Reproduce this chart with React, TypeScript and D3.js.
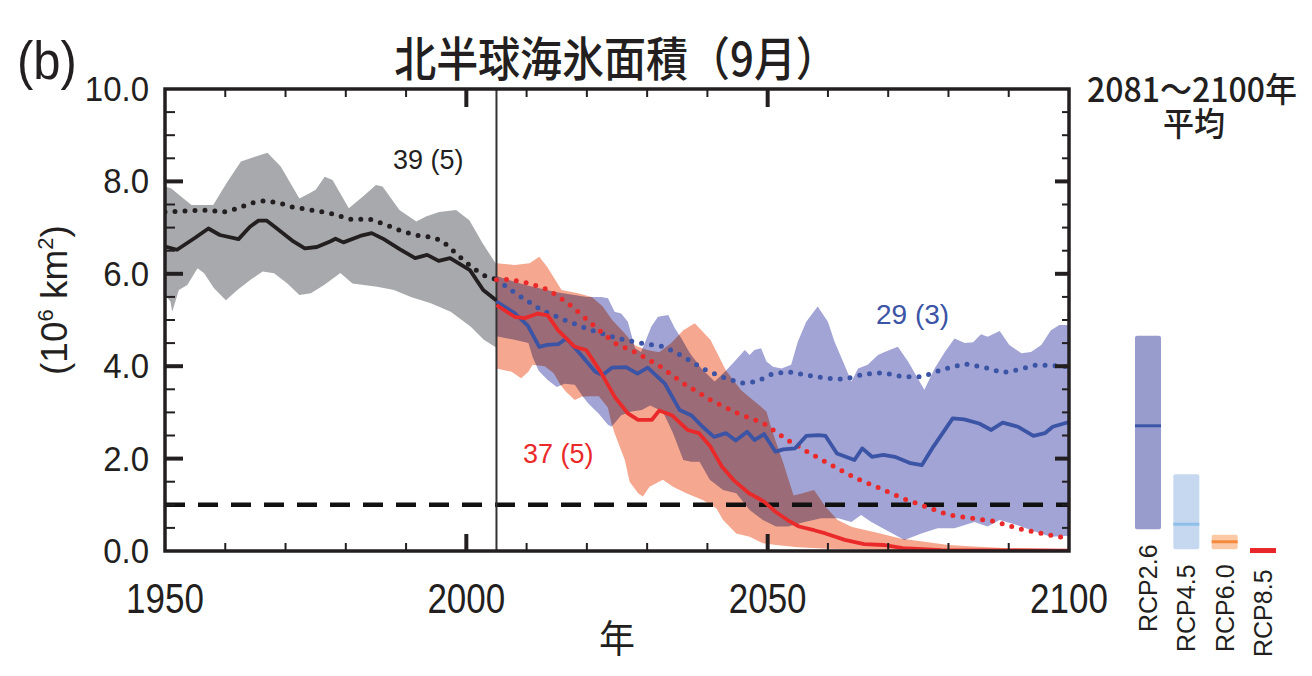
import * as d3 from 'd3';

type Pt = [number, number];

// 1950-2005 historical ensemble (million km2)
const histMean: Pt[] = [[1950,6.59],[1952,6.52],[1955,6.78],[1957.2,6.98],[1959.1,6.84],[1962.2,6.75],[1964.1,7.02],[1965.5,7.15],[1966.9,7.15],[1968.2,7.02],[1971.3,6.70],[1973.2,6.55],[1975.2,6.58],[1977.4,6.70],[1978.3,6.76],[1979.6,6.68],[1982.4,6.82],[1984.3,6.88],[1986.3,6.75],[1989,6.53],[1991.5,6.34],[1993.5,6.41],[1995.4,6.28],[1997.3,6.34],[2000.6,6.08],[2002.8,5.65],[2005,5.42]];
const histAll: Pt[] = [[1950,7.34],[1953.4,7.36],[1957.2,7.38],[1959.6,7.33],[1962.2,7.42],[1964.1,7.53],[1966.6,7.58],[1968.8,7.54],[1971,7.45],[1974.3,7.38],[1977.4,7.31],[1980.7,7.18],[1984,7.18],[1986.3,7.08],[1989.5,6.91],[1992.3,6.82],[1994.5,6.79],[1996.1,6.70],[1998.9,6.37],[2001.1,6.12],[2003.3,5.94],[2005,5.88]];
const histUpper: Pt[] = [[1950,7.89],[1951,7.85],[1952.7,7.67],[1954.4,7.49],[1958,7.49],[1960.2,7.96],[1962.6,8.43],[1964.8,8.53],[1967,8.62],[1969.2,8.32],[1972.3,7.63],[1973.9,7.74],[1975,7.82],[1976.5,8.10],[1977.8,8.03],[1980.5,7.42],[1982.8,7.67],[1985,7.92],[1986.1,7.89],[1988.9,7.38],[1991.7,7.13],[1993.3,7.24],[1995.5,7.34],[1998.3,7.38],[2000.5,7.16],[2002.7,6.66],[2005,6.2]];
const histLower: Pt[] = [[1950,5.54],[1950.9,5.40],[1951.2,5.18],[1952.3,5.65],[1953.7,5.76],[1955.4,6.12],[1956.5,6.01],[1958.1,5.69],[1960.1,5.43],[1962,5.65],[1964.2,5.87],[1966.2,6.05],[1968.1,6.01],[1970.3,5.79],[1972.3,5.54],[1974.2,5.58],[1976.4,5.76],[1979.1,6.02],[1981.1,5.79],[1983,5.76],[1985.2,5.72],[1988,5.65],[1990.8,5.50],[1994.1,5.36],[1997.4,5.18],[2000.7,4.86],[2002.9,4.57],[2005,4.40]];

// RCP2.6
const rcp26Mean: Pt[] = [[2005,5.40],[2008,5.15],[2010.2,4.88],[2012.1,4.42],[2013.4,4.46],[2015.3,4.48],[2016.6,4.60],[2018.8,4.28],[2021.4,3.88],[2022.6,3.81],[2024.2,3.97],[2026.5,3.98],[2028.4,3.84],[2030.1,3.97],[2032.9,3.63],[2035.4,3.05],[2037.3,2.94],[2039.2,2.69],[2041.1,2.47],[2043.1,2.55],[2044.7,2.39],[2046.6,2.58],[2047.8,2.40],[2049.4,2.53],[2051.3,2.15],[2052.6,2.2],[2054.5,2.22],[2056.4,2.49],[2058.4,2.51],[2059.6,2.49],[2061.5,2.11],[2064.4,1.97],[2065.7,2.22],[2067.3,2.04],[2069.2,2.08],[2071.1,2.04],[2073.7,1.90],[2075.6,1.86],[2077.5,2.26],[2080.7,2.87],[2082.6,2.85],[2085.1,2.76],[2087.1,2.62],[2089,2.78],[2091.5,2.69],[2094.1,2.49],[2096,2.55],[2097.3,2.69],[2100,2.79]];
const rcp26All: Pt[] = [[2005,5.87],[2008.6,5.54],[2012.4,5.22],[2016.3,5.0],[2020.7,4.78],[2025.2,4.60],[2029,4.50],[2032.9,4.42],[2036,4.21],[2039.2,3.95],[2042.4,3.77],[2045.6,3.63],[2048.2,3.67],[2050.7,3.83],[2053.3,3.88],[2056.4,3.81],[2059.6,3.74],[2062.8,3.72],[2066,3.83],[2069.2,3.86],[2072.4,3.77],[2075.6,3.77],[2078.8,3.92],[2082.6,4.05],[2085.8,3.98],[2089,3.86],[2091.5,3.92],[2094.7,4.03],[2100,3.99]];
const rcp26Upper: Pt[] = [[2005,5.95],[2010,5.75],[2015,5.6],[2020,5.5],[2022.4,5.5],[2023.5,5.47],[2024.6,5.18],[2025.7,5.14],[2026.8,4.96],[2028,4.39],[2029,4.31],[2030.7,4.86],[2031.8,5.07],[2033.5,5.11],[2034.6,4.82],[2035.7,4.60],[2037,4.3],[2039,3.95],[2041.2,3.67],[2042.9,3.88],[2044.5,4.10],[2046.2,4.35],[2047,4.24],[2047.8,4.35],[2048.9,4.39],[2049.8,4.10],[2050.9,3.99],[2052.3,3.95],[2053.9,4.03],[2055,4.53],[2056.4,4.96],[2058.3,5.29],[2060,4.96],[2061.1,4.53],[2062.5,4.10],[2063.9,3.67],[2065,3.95],[2066.6,4.03],[2068.3,4.24],[2069.4,4.31],[2071.6,4.42],[2073.3,4.10],[2074.9,3.74],[2076,3.49],[2077.7,3.95],[2079.4,4.31],[2081,4.60],[2082.7,4.50],[2084.1,4.52],[2085.4,4.69],[2086.5,4.64],[2088.5,4.76],[2090.1,4.46],[2092.1,4.28],[2093.7,4.31],[2095.4,4.46],[2097,4.78],[2098.4,4.89],[2100,4.89]];
const rcp26Lower: Pt[] = [[2005,4.65],[2008,4.57],[2010.3,4.5],[2011,4.2],[2012,3.9],[2013.5,3.7],[2015,3.55],[2016.3,3.62],[2018,3.6],[2019.3,3.35],[2020.2,3.2],[2021.9,2.98],[2023.5,2.73],[2024.1,2.69],[2025.7,2.94],[2027.4,3.02],[2029.1,3.05],[2030.5,3.15],[2032.6,3.02],[2034.3,2.55],[2036,1.97],[2037.3,1.93],[2038.7,1.93],[2040.4,1.54],[2042.6,1.32],[2044.8,1.25],[2047,0.89],[2049.2,0.67],[2051.4,0.53],[2053.4,0.53],[2056.1,0.63],[2058.9,0.71],[2061.7,0.71],[2063.9,0.63],[2065.5,0.78],[2067.2,0.63],[2069.4,0.47],[2072.7,0.24],[2075.5,0.38],[2078.2,0.49],[2081,0.49],[2084.3,0.63],[2086.5,0.53],[2088.5,0.67],[2091.5,0.56],[2094.3,0.42],[2097,0.31],[2100,0.33]];

// RCP8.5
const rcp85Mean: Pt[] = [[2005,5.32],[2008,5.07],[2009.7,5.04],[2011.9,5.14],[2013.5,5.10],[2015.2,4.78],[2018,4.42],[2019.9,4.35],[2022.4,3.85],[2024.6,3.34],[2026.8,2.98],[2028.5,2.84],[2030.8,2.84],[2032,3.04],[2034.1,2.94],[2036.7,2.62],[2038.6,2.55],[2040.5,2.26],[2042.4,1.83],[2044.3,1.54],[2046.9,1.25],[2049.4,1.07],[2051.3,0.85],[2053.3,0.67],[2055.2,0.53],[2057.7,0.45],[2059.6,0.38],[2062.8,0.24],[2066,0.15],[2069.2,0.13],[2072.4,0.06],[2078.8,0.02],[2100,0.01]];
const rcp85All: Pt[] = [[2005,5.87],[2007.3,5.88],[2010.5,5.79],[2013.7,5.65],[2016.9,5.36],[2020.7,4.93],[2024.6,4.50],[2028.4,4.28],[2032.2,3.99],[2036,3.63],[2040.5,3.27],[2045,2.98],[2049.4,2.76],[2053.3,2.40],[2057.1,2.11],[2061,1.83],[2064.7,1.57],[2068.6,1.36],[2072.4,1.14],[2076.2,0.96],[2080.1,0.78],[2083.9,0.71],[2087.7,0.64],[2091.5,0.49],[2095.4,0.38],[2100,0.27]];
const rcp85Upper: Pt[] = [[2005,6.23],[2008,6.19],[2010.5,6.23],[2012.1,6.37],[2013.4,6.15],[2015.8,5.65],[2018.5,5.58],[2020.8,5.5],[2022.6,5.3],[2024.2,5.0],[2026,4.75],[2028,4.45],[2030,4.35],[2032,4.3],[2034,4.5],[2036,4.78],[2037.9,4.93],[2040.5,4.57],[2043.1,3.9],[2045.6,3.48],[2048.2,3.2],[2049.8,3.02],[2050.7,2.62],[2052.6,1.9],[2054.3,1.2],[2055.8,1.25],[2057.7,1.32],[2059.6,0.96],[2061.6,0.67],[2064,0.52],[2068,0.4],[2072,0.27],[2076,0.2],[2080,0.13],[2085,0.09],[2090,0.06],[2100,0.04]];
const rcp85Lower: Pt[] = [[2005,3.95],[2007.5,3.88],[2009.1,3.74],[2010.3,3.88],[2011,4.03],[2013,4.0],[2014.5,3.85],[2015.6,3.6],[2016.5,3.45],[2018,3.27],[2019.1,3.34],[2020.5,3.35],[2022,3.35],[2023.5,3.1],[2024.1,2.76],[2024.6,2.55],[2026.3,1.97],[2027.1,1.5],[2028.5,1.25],[2029.3,1.18],[2030.4,1.39],[2032.6,1.54],[2034.3,1.39],[2036.5,1.25],[2039.3,1.10],[2041.5,0.92],[2042.6,0.67],[2044.8,0.38],[2047,0.31],[2049.2,0.17],[2051.4,0.13],[2055,0.08],[2060,0.05],[2070,0.02],[2080,0.01],[2100,0]];

// 2081-2100 mean bars
const legendLabels = ['RCP2.6', 'RCP4.5', 'RCP6.0', 'RCP8.5'];
const legendLow = [0.47, 0.04, 0.04, 0.0];
const legendHigh = [4.66, 1.66, 0.35, 0.03];
const legendMean = [2.71, 0.58, 0.2, 0.01];
const legendFill = ['#989ccc', '#c6d8f0', '#fbc9a6', '#ef3b36'];
const legendLine = ['#3d55a6', '#8dbfe8', '#f58a3c', '#e8262a'];
const legendTextStart = [632, 652, 652, 657];

const yTickValues = [0, 2, 4, 6, 8, 10];
const xTickValues = [1950, 2000, 2050, 2100];

const SANS = "'Liberation Sans', Arial, Helvetica, sans-serif";
const CJK = "'Noto Sans CJK JP', 'Noto Sans CJK SC', sans-serif";

const BLACK = '#231f20';
const BLUE = '#3b54a5';
const RED = '#ea2a2a';

export default function App() {
  const x = d3.scaleLinear().domain([1950, 2100]).range([165, 1069]);
  const y = d3.scaleLinear().domain([0, 10]).range([551, 89]);
  const line = d3.line<Pt>().x(d => x(d[0])).y(d => y(d[1]));
  const band = (up: Pt[], lo: Pt[]) => line([...up, ...lo.slice().reverse()]) + 'Z';
  const bx = d3.scalePoint<string>().domain(legendLabels).range([1148, 1263]);

  const [x0, x1] = x.range();
  const [yb, yt] = y.range();
  const yMinor = d3.range(0.5, 10, 0.5);
  const xMinor = d3.range(1960, 2100, 10);

  return (
    <svg width={1312} height={676} style={{ position: 'absolute', left: 0, top: 0, background: '#fff' }}>
      <defs>
        <clipPath id="plot"><rect x={x0} y={yt} width={x1 - x0} height={yb - yt} /></clipPath>
      </defs>

      <text transform="translate(17,79) scale(1,1.08)" fontFamily={SANS} fontSize={49} fill={BLACK}>(b)</text>
      <text transform="translate(616,76) scale(1,1.1)" textAnchor="middle" fontFamily={CJK} fontWeight={500} fontSize={42} fill={BLACK}>北半球海氷面積（9月）</text>

      <g clipPath="url(#plot)">
        <path d={band(histUpper, histLower)} fill="#a7a9ac" />
        <path d={band(rcp85Upper, rcp85Lower)} fill="#f6a78f" style={{ mixBlendMode: 'multiply' }} />
        <path d={band(rcp26Upper, rcp26Lower)} fill="#a1a4d4" style={{ mixBlendMode: 'multiply' }} />
        <line x1={x0} x2={x1} y1={y(1)} y2={y(1)} stroke="#111" strokeWidth={4.5} strokeDasharray="20 13" />
        <line x1={x(2005)} x2={x(2005)} y1={yt} y2={yb} stroke="#333" strokeWidth={2} />
        <path d={line(histAll)!} fill="none" stroke={BLACK} strokeWidth={5} strokeLinecap="round" strokeDasharray="0 10" />
        <path d={line(rcp26All)!} fill="none" stroke={BLUE} strokeWidth={5} strokeLinecap="round" strokeDasharray="0 10" />
        <path d={line(rcp85All)!} fill="none" stroke={RED} strokeWidth={5} strokeLinecap="round" strokeDasharray="0 10" />
        <path d={line(histMean)!} fill="none" stroke={BLACK} strokeWidth={3.8} strokeLinejoin="round" />
        <path d={line(rcp26Mean)!} fill="none" stroke={BLUE} strokeWidth={3.8} strokeLinejoin="round" />
        <path d={line(rcp85Mean)!} fill="none" stroke={RED} strokeWidth={3.8} strokeLinejoin="round" />
      </g>

      {/* frame and ticks */}
      <rect x={x0} y={yt} width={x1 - x0} height={yb - yt} fill="none" stroke={BLACK} strokeWidth={3.5} />
      {yMinor.map(v => {
        const major = v % 2 === 0;
        return (
          <g key={'yt' + v} stroke={BLACK}>
            <line x1={x0} x2={x0 + (major ? 18 : 10)} y1={y(v)} y2={y(v)} strokeWidth={major ? 4 : 2} />
            <line x1={x1} x2={x1 - (major ? 14 : 7)} y1={y(v)} y2={y(v)} strokeWidth={major ? 4 : 2} />
          </g>
        );
      })}
      {xMinor.map(v => {
        const major = v % 50 === 0;
        return (
          <g key={'xt' + v} stroke={BLACK}>
            <line x1={x(v)} x2={x(v)} y1={yb} y2={yb - (major ? 17 : 8)} strokeWidth={major ? 4 : 2} />
            <line x1={x(v)} x2={x(v)} y1={yt} y2={yt + (major ? 18 : 8)} strokeWidth={major ? 4 : 2} />
          </g>
        );
      })}

      {yTickValues.map(v => (
        <text key={'yl' + v} transform={`translate(149,${y(v) + 12}) scale(1,1.08)`} textAnchor="end" fontFamily={SANS} fontSize={33} fill={BLACK}>{d3.format('.1f')(v)}</text>
      ))}
      {xTickValues.map(v => (
        <text key={'xl' + v} transform={`translate(${x(v)},613) scale(1,1.22)`} textAnchor="middle" fontFamily={SANS} fontSize={35} fill={BLACK}>{v}</text>
      ))}
      <text transform="translate(617,652) scale(1,1.05)" textAnchor="middle" fontFamily={CJK} fontSize={36} fill={BLACK}>年</text>
      <text transform="translate(67,300) rotate(-90)" textAnchor="middle" fontFamily={SANS} fontSize={37} fill={BLACK}>
        (10<tspan dy={-14} fontSize={22}>6</tspan><tspan dy={14}> km</tspan><tspan dy={-14} fontSize={22}>2</tspan><tspan dy={14}>)</tspan>
      </text>

      <text x={393} y={169} fontFamily={SANS} fontSize={27} fill={BLACK}>39 (5)</text>
      <text x={523} y={463} fontFamily={SANS} fontSize={27} fill={RED}>37 (5)</text>
      <text x={876} y={324} fontFamily={SANS} fontSize={28} fill={BLUE}>29 (3)</text>

      {/* 2081-2100 mean bars */}
      <text transform="translate(1192,102) scale(1,1.05)" textAnchor="middle" fontFamily={CJK} fontWeight={500} fontSize={32} fill={BLACK}>2081〜2100年</text>
      <text transform="translate(1194,136) scale(1,1.05)" textAnchor="middle" fontFamily={CJK} fontWeight={500} fontSize={31} fill={BLACK}>平均</text>
      {legendLabels.map((lab, i) => {
        const cx = bx(lab)!;
        return (
          <g key={lab}>
            <rect x={cx - 13} y={y(legendHigh[i])} width={26} height={y(legendLow[i]) - y(legendHigh[i])} rx={2} fill={legendFill[i]} />
            <line x1={cx - 13} x2={cx + 13} y1={y(legendMean[i])} y2={y(legendMean[i])} stroke={legendLine[i]} strokeWidth={i === 3 ? 5 : 3} />
            <text transform={`translate(${cx + 9},${legendTextStart[i]}) rotate(-90)`} fontFamily={SANS} fontSize={25} fill={BLACK}>{lab}</text>
          </g>
        );
      })}
    </svg>
  );
}
